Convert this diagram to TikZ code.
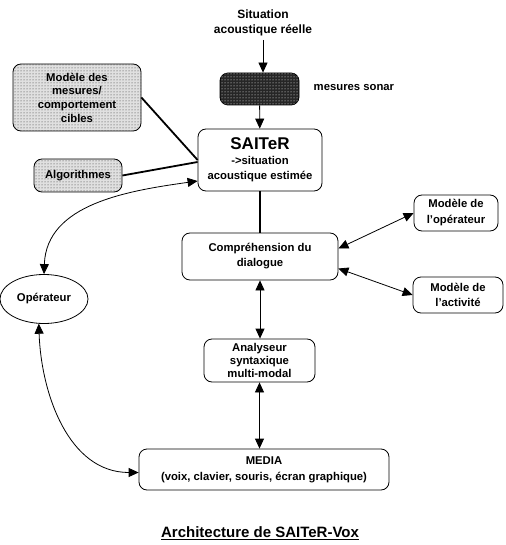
\documentclass[tikz,border=0pt]{standalone}
\usepackage{fontspec}
\setmainfont{Liberation Sans}
\usetikzlibrary{arrows.meta,patterns,shapes.geometric}

\tikzset{
  bloc/.style={draw,line width=.8pt,rounded corners=8pt,align=center,inner sep=1pt},
  grise/.style={bloc,fill=black!12,postaction={pattern=dots,pattern color=black!80}},
  sombre/.style={bloc,fill=black!85,postaction={pattern=dots,pattern color=white}},
  epais/.style={line width=1.8pt}
}

\begin{document}
\begin{tikzpicture}[x=1pt,y=-1pt,line width=.8pt,
    font=\bfseries\fontsize{11.3}{14}\selectfont,
    >={Triangle[length=10pt,width=9pt]}]
  \useasboundingbox (0,0) rectangle (505,545);

  \node[align=center,font=\bfseries\fontsize{12}{15}\selectfont] (reelle) at (263,23) {Situation\\acoustique réelle};
  \node[sombre,minimum width=79pt,minimum height=32pt] (sonar) at (259.5,89) {};
  \node[right] (sonarlbl) at (310,88) {mesures sonar};
  \node[bloc,minimum width=124pt,minimum height=62pt,font=\bfseries\fontsize{11.3}{15}\selectfont] (saiter) at (260,160)
    {{\fontsize{17}{18}\selectfont SAITeR}\\->situation\\acoustique estimée};
  \node[grise,minimum width=128pt,minimum height=67pt,font=\bfseries\fontsize{11.3}{13.7}\selectfont] (mesures) at (77,97.5)
    {Modèle des\\mesures/\\comportement\\cibles};
  \node[grise,minimum width=88pt,minimum height=33pt] (algo) at (78,175.5) {Algorithmes};
  \node[bloc,minimum width=156pt,minimum height=47pt,font=\bfseries\fontsize{11.3}{15}\selectfont] (comp) at (260,256.5)
    {Compréhension du\\dialogue};
  \node[bloc,minimum width=84pt,minimum height=36pt,font=\bfseries\fontsize{11.3}{16}\selectfont] (mop) at (456,213)
    {Modèle de\\l'opérateur};
  \node[bloc,minimum width=90pt,minimum height=36pt,font=\bfseries\fontsize{11.3}{15}\selectfont] (mact) at (458,295)
    {Modèle de\\l'activité};
  \node[draw,ellipse,minimum width=88pt,minimum height=49pt,inner sep=0pt] (oper) at (44,299) {Opérateur};
  \node[bloc,minimum width=111pt,minimum height=43pt,font=\bfseries\fontsize{11.3}{13}\selectfont] (analy) at (259.5,360.5)
    {Analyseur\\syntaxique\\multi-modal};
  \node[bloc,minimum width=250pt,minimum height=41pt,font=\bfseries\fontsize{11.3}{16}\selectfont] (media) at (264,469.5)
    {MEDIA\\(voix, clavier, souris, écran graphique)};
  \node[font=\bfseries\fontsize{15}{16}\selectfont] (titre) at (260,533) {\underline{Architecture de SAITeR-Vox}};

  \draw[->] (reelle) -- (reelle |- sonar.north);
  \draw[->] (sonar) -- (saiter);
  \draw[epais] (mesures.east) -- (saiter.west);
  \draw[epais] (algo.east) -- ([yshift=-2pt]saiter.west);
  \draw[<->] (oper.north) to[out=88,in=188] ([yshift=-21pt]saiter.west);
  \draw[epais] (saiter) -- (comp);
  \draw[<->] ([yshift=8pt]comp.east) -- (mop.west);
  \draw[<->] ([yshift=-12pt]comp.east) -- (mact.west);
  \draw[<->] (comp.south) -- (comp.south |- analy.north);
  \draw[<->] (analy.south) -- (analy.south |- media.north);
  \draw[<->] (oper.258) to[out=-88,in=180] ([yshift=-3pt]media.west);
\end{tikzpicture}
\end{document}
